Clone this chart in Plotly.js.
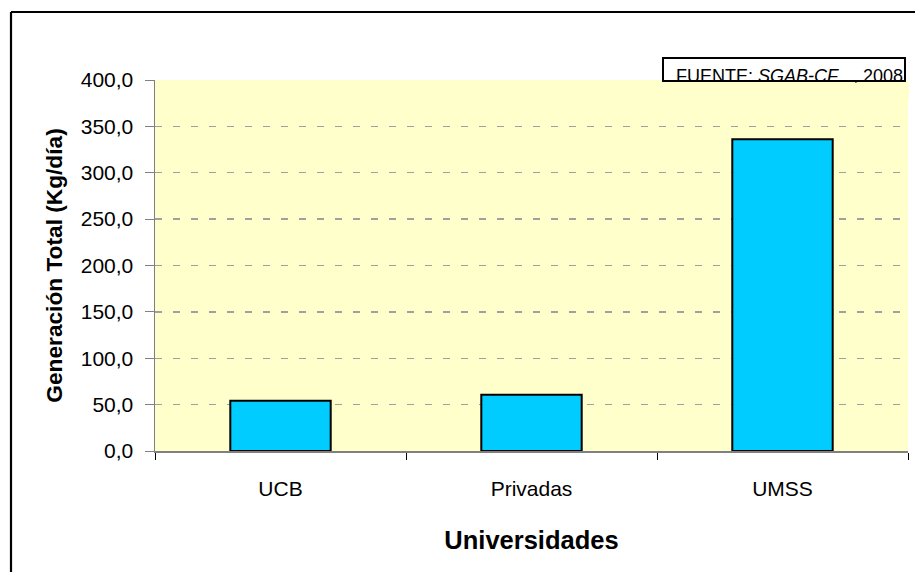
<!DOCTYPE html>
<html>
<head>
<meta charset="utf-8">
<script src="https://cdn.plot.ly/plotly-3.0.1.min.js"></script>
<style>html,body{margin:0;padding:0;background:#fff;}#chart{width:915px;height:572px;}</style>
</head>
<body>
<div id="chart"></div>
<script>
const categories = ["UCB", "Privadas", "UMSS"];
const generacion = [54.2, 60.7, 336.0];
const yTickValues = [0, 50, 100, 150, 200, 250, 300, 350, 400];
const xTitle = "Universidades";
const yTitle = "Generación Total (Kg/día)";
const sourceText = "FUENTE: <i>SGAB-CF</i>&nbsp;&nbsp;&nbsp;, 2008";

const fam = "'Liberation Sans', Arial, sans-serif";

const W = 915, H = 572;
const L = 155, R = 7, T = 80, B = 121;
const pw = W - L - R, ph = H - T - B;
const px = x => (x - L) / pw;
const py = y => (H - B - y) / ph;

const trace = {
  type: "bar",
  x: categories,
  y: generacion,
  marker: {color: "#00CCFF", line: {color: "#000000", width: 2}},
  width: 0.4,
  hoverinfo: "x+y"
};

const layout = {
  width: W, height: H,
  margin: {l: L, r: R, t: T, b: B, pad: 0},
  paper_bgcolor: "#FFFFFF",
  plot_bgcolor: "#FFFFCC",
  separators: ", ",
  showlegend: false,
  font: {family: fam, color: "#000000"},
  xaxis: {
    type: "category",
    tickson: "boundaries",
    ticks: "outside",
    ticklen: 7,
    tickwidth: 1,
    tickcolor: "#000000",
    showline: true,
    linecolor: "#808080",
    linewidth: 1.5,
    showgrid: false,
    tickfont: {family: fam, size: 21, color: "#000000"},
    ticklabelstandoff: 18,
    title: {text: xTitle, font: {family: fam, size: 25.5, color: "#000000", weight: "bold"}, standoff: 32},
    automargin: false
  },
  yaxis: {
    range: [0, 400],
    tickvals: yTickValues,
    tickformat: ".1f",
    ticks: "outside",
    ticklen: 9,
    tickwidth: 1,
    tickcolor: "#808080",
    showline: true,
    linecolor: "#808080",
    linewidth: 1.5,
    showgrid: true,
    gridcolor: "#A0A0A0",
    gridwidth: 1.3,
    griddash: "7px,11px",
    zeroline: false,
    tickfont: {family: fam, size: 21, color: "#000000"},
    ticklabelstandoff: 7,
    title: {text: yTitle, font: {family: fam, size: 22.7, color: "#000000", weight: "bold"}, standoff: 12},
    automargin: false
  },
  shapes: [
    {type: "line", xref: "paper", yref: "paper", x0: px(11), x1: px(930), y0: py(12), y1: py(12), line: {color: "#000000", width: 2.2}},
    {type: "line", xref: "paper", yref: "paper", x0: px(11), x1: px(11), y0: py(12), y1: py(600), line: {color: "#000000", width: 2.2}}
  ],
  annotations: [
    {xref: "paper", yref: "paper", x: px(675), y: py(65), xanchor: "left", yanchor: "top",
     text: sourceText, showarrow: false, font: {family: fam, size: 18, color: "#000000"}, borderpad: 0, bgcolor: "rgba(0,0,0,0)"},
    {xref: "paper", yref: "paper", x: px(784), y: py(82.5), xanchor: "center", yanchor: "top",
     text: " ", showarrow: false, width: 250, height: 16, bgcolor: "#FFFFCC", borderpad: 0, borderwidth: 0},
    {xref: "paper", yref: "paper", x: px(784.3), y: py(69.5), xanchor: "center", yanchor: "middle",
     text: " ", showarrow: false, width: 240, height: 21, bgcolor: "rgba(0,0,0,0)", bordercolor: "#000000", borderwidth: 2, borderpad: 0}
  ]
};

Plotly.newPlot("chart", [trace], layout, {displayModeBar: false, staticPlot: true});
</script>
</body>
</html>
